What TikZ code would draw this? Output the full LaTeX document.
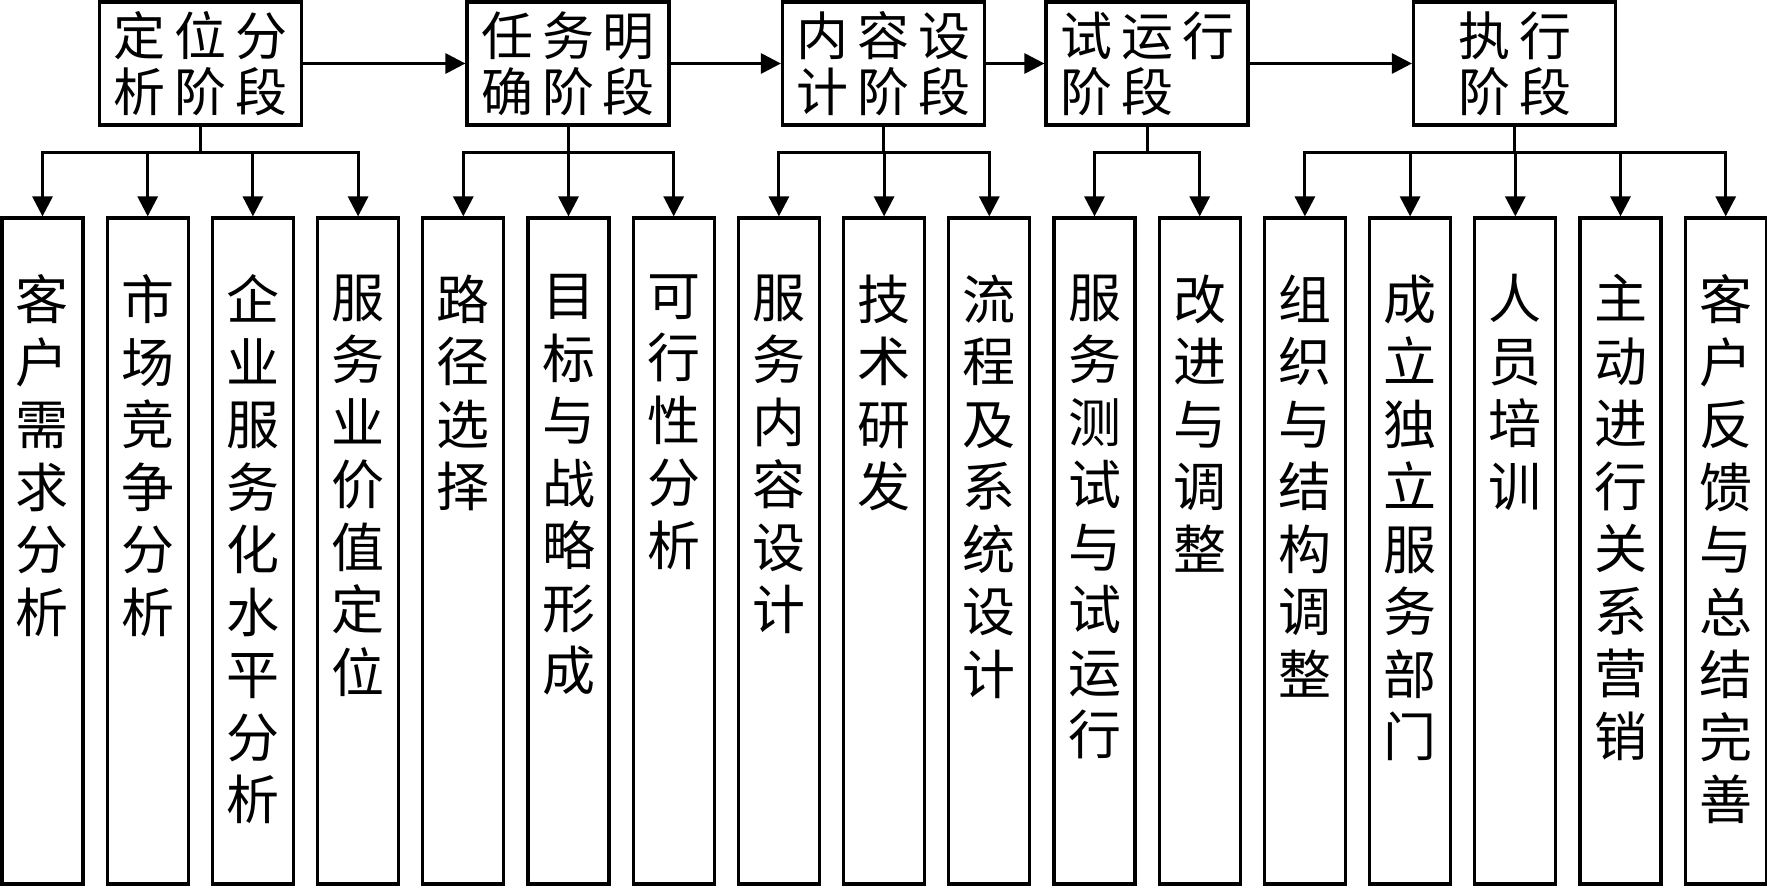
\documentclass[tikz,border=0pt]{standalone}
\usepackage{fontspec}
\setmainfont{Noto Sans CJK SC}
\usetikzlibrary{arrows.meta}
\begin{document}
\begin{tikzpicture}[x=1pt,y=-1pt,
  topbox/.style={draw, line width=3.2pt, minimum width=202pt, minimum height=123pt, inner sep=0pt, font=\fontsize{52}{56}\selectfont, align=left},
  lowbox/.style={draw, line width=3.2pt, minimum width=81pt, minimum height=666pt, inner sep=0pt},
  vtext/.style={anchor=north, inner sep=0pt, align=center, font=\fontsize{53}{62.5}\selectfont},
  arr/.style={line width=3pt, -{Triangle[length=20pt,width=20pt]}}
]
\useasboundingbox (0,0) rectangle (1767,887);
\fill[white] (0,0) rectangle (1767,887);

\node[topbox] (s1) at (200.5,63.5) {定\hspace{9pt}位\hspace{9pt}分\\析\hspace{9pt}阶\hspace{9pt}段};
\node[topbox] (s2) at (568,63.5) {任\hspace{9pt}务\hspace{9pt}明\\确\hspace{9pt}阶\hspace{9pt}段};
\node[topbox] (s3) at (883.5,63.5) {内\hspace{9pt}容\hspace{9pt}设\\计\hspace{9pt}阶\hspace{9pt}段};
\node[topbox] (s4) at (1147,63.5) {试\hspace{9pt}运\hspace{9pt}行\\阶\hspace{9pt}段};
\node[topbox] (s5) at (1514.5,63.5) {执\hspace{9pt}行\\阶\hspace{9pt}段};

\foreach \i/\t in {
 0/{客\\户\\需\\求\\分\\析},
 1/{市\\场\\竞\\争\\分\\析},
 2/{企\\业\\服\\务\\化\\水\\平\\分\\析},
 3/{服\\务\\业\\价\\值\\定\\位},
 4/{路\\径\\选\\择},
 5/{目\\标\\与\\战\\略\\形\\成},
 6/{可\\行\\性\\分\\析},
 7/{服\\务\\内\\容\\设\\计},
 8/{技\\术\\研\\发},
 9/{流\\程\\及\\系\\统\\设\\计},
 10/{服\\务\\测\\试\\与\\试\\运\\行},
 11/{改\\进\\与\\调\\整},
 12/{组\\织\\与\\结\\构\\调\\整},
 13/{成\\立\\独\\立\\服\\务\\部\\门},
 14/{人\\员\\培\\训},
 15/{主\\动\\进\\行\\关\\系\\营\\销},
 16/{客\\户\\反\\馈\\与\\总\\结\\完\\善}}
{
  \node[lowbox] (b\i) at ({42.5+105.2*\i},551) {};
  \node[vtext] (t\i) at ([yshift=-58pt]b\i.north) {\t};
}

\foreach \a/\b in {s1/s2,s2/s3,s3/s4,s4/s5}
  \draw[arr] (\a.east) -- (\b.west);

\foreach \s/\lst in {s1/{0,1,2,3}, s2/{4,5,6}, s3/{7,8,9}, s4/{10,11}, s5/{12,13,14,15,16}}
{
  \coordinate (j\s) at ([yshift=-26pt]\s.south);
  \foreach \c in \lst
    \draw[arr] (\s.south) -- (j\s) -| (b\c.north);
}
\end{tikzpicture}
\end{document}
